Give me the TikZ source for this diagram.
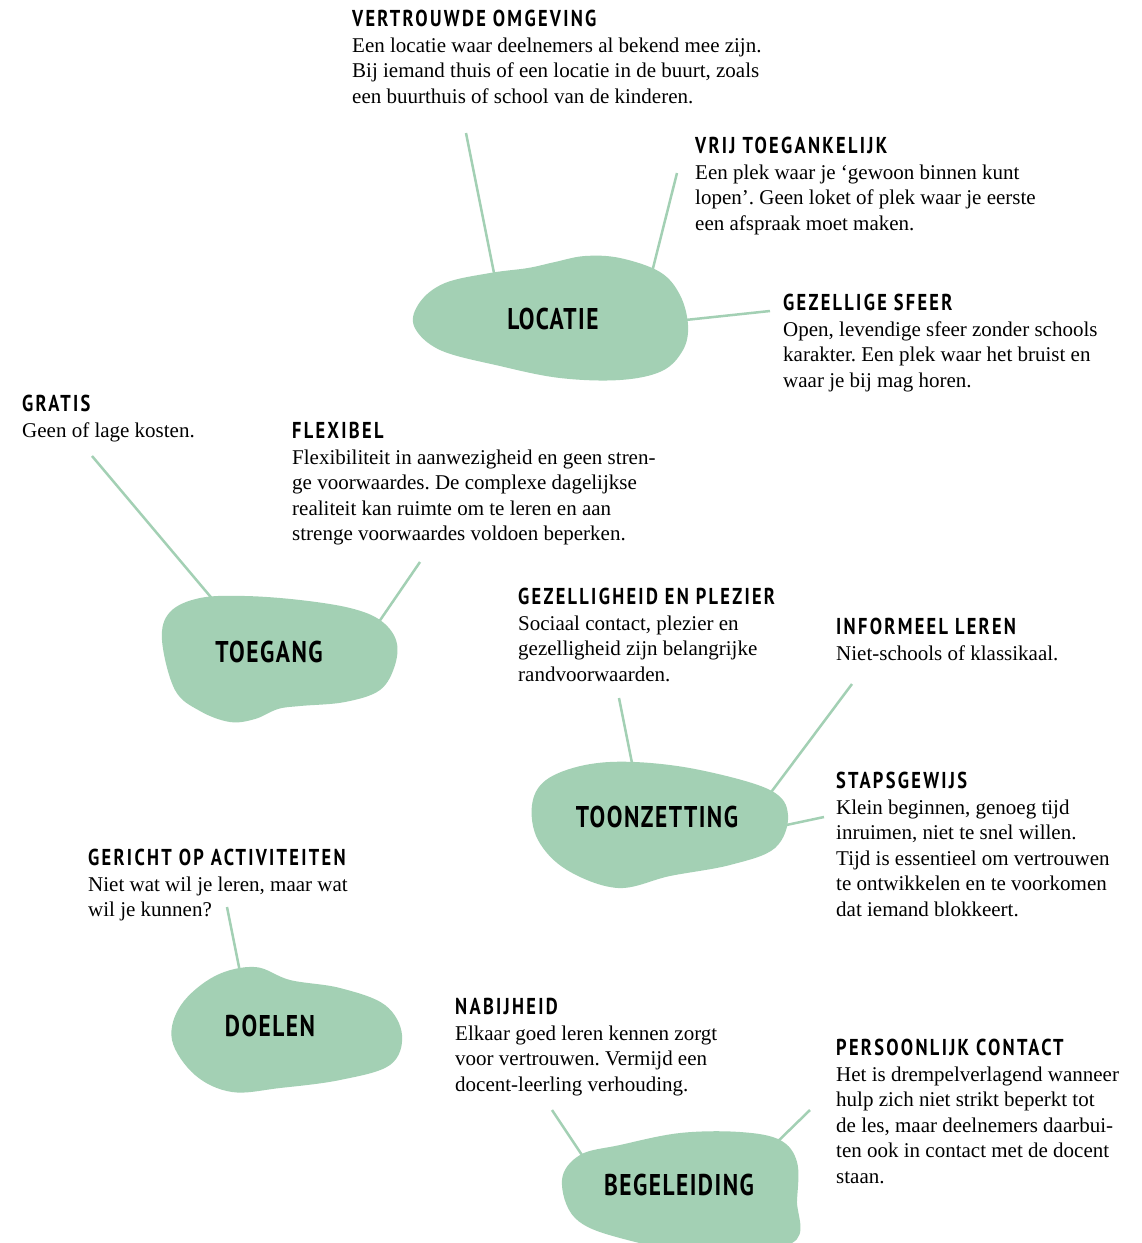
\documentclass[tikz,border=0pt]{standalone}
\usepackage{fontspec}
\setmainfont{Liberation Serif}
\newfontfamily\headfont{PT Sans}[FakeStretch=0.8, LetterSpace=10]
\newfontfamily\blobfont{PT Sans}[FakeStretch=0.78, LetterSpace=5]
\definecolor{blobgreen}{HTML}{A3D0B4}
\newcommand\hd[1]{{\headfont\bfseries\fontsize{23}{25.5}\selectfont #1}}
\tikzset{
  block/.style={anchor=north west, inner sep=0pt, align=left, font=\fontsize{21}{25.5}\selectfont},
  conn/.style={draw=blobgreen, line width=2.5pt},
  blob/.style={fill=blobgreen},
  bloblabel/.style={inner sep=0pt, font=\blobfont\bfseries\fontsize{30}{32}\selectfont}
}
\frenchspacing
\begin{document}
\begin{tikzpicture}[x=1pt,y=-1pt]
\useasboundingbox (0,0) rectangle (1142,1243);
\fill[white] (0,0) rectangle (1142,1243);

% connector end points
\coordinate (vo1) at (466,133); \coordinate (vo2) at (496,283);
\coordinate (vt1) at (677,173); \coordinate (vt2) at (650,280);
\coordinate (gs1) at (770,311); \coordinate (gs2) at (676,321);
\coordinate (gr1) at (92,456);  \coordinate (gr2) at (220,608);
\coordinate (fl1) at (420,562); \coordinate (fl2) at (372,632);
\coordinate (gp1) at (619,698); \coordinate (gp2) at (634,773);
\coordinate (il1) at (852,684); \coordinate (il2) at (766,799);
\coordinate (sg1) at (824,817); \coordinate (sg2) at (777,827);
\coordinate (ga1) at (227,907); \coordinate (ga2) at (241,977);
\coordinate (nb1) at (552,1110); \coordinate (nb2) at (588,1164);
\coordinate (pc1) at (810,1110); \coordinate (pc2) at (770,1149);

\foreach \a in {vo,vt,gs,gr,fl,gp,il,sg,ga,nb,pc}{\draw[conn] (\a1) -- (\a2);}

% blobs
\fill[blob] plot[smooth cycle, tension=0.6] coordinates {(414,326) (440,350) (500,366) (560,378) (620,380) (662,371) (683,350) (688,325) (680,295) (660,272) (620,258) (585,256) (555,262) (528,268) (490,273) (445,283) (420,302)};
\fill[blob] plot[smooth cycle, tension=0.6] coordinates {(162,640) (170,612) (200,598) (245,596) (300,600) (350,608) (380,620) (396,640) (395,665) (380,690) (345,702) (300,706) (278,709) (255,719) (230,722) (200,711) (175,690)};
\fill[blob] plot[smooth cycle, tension=0.6] coordinates {(532,805) (546,780) (585,765) (635,762) (700,770) (770,790) (788,815) (775,848) (730,865) (670,876) (618,888) (567,870) (538,840)};
\fill[blob] plot[smooth cycle, tension=0.6] coordinates {(172,1040) (181,1005) (215,976) (255,967) (290,980) (340,988) (385,1005) (402,1035) (390,1065) (340,1080) (280,1088) (232,1092) (195,1075)};
\fill[blob] plot[smooth cycle, tension=0.6] coordinates {(562,1180) (580,1155) (620,1145) (680,1133) (740,1132) (780,1140) (797,1162) (797,1200) (792,1243) (700,1252) (620,1238) (575,1218)};

\node[bloblabel] (locatie) at (553,319) {LOCATIE};
\node[bloblabel] (toegang) at (269,652) {TOEGANG};
\node[bloblabel] (toonzetting) at (657,817) {TOONZETTING};
\node[bloblabel] (doelen) at (270,1026) {DOELEN};
\node[bloblabel] (begeleiding) at (679,1185) {BEGELEIDING};

% text blocks
\node[block] (vertrouwd) at (352,10) {\hd{VERTROUWDE OMGEVING}\\
Een locatie waar deelnemers al bekend mee zijn.\\
Bij iemand thuis of een locatie in de buurt, zoals\\
een buurthuis of school van de kinderen.};
\node[block] (vrij) at (695,137) {\hd{VRIJ TOEGANKELIJK}\\
Een plek waar je ‘gewoon binnen kunt\\
lopen’. Geen loket of plek waar je eerste\\
een afspraak moet maken.};
\node[block] (sfeer) at (783,294) {\hd{GEZELLIGE SFEER}\\
Open, levendige sfeer zonder schools\\
karakter. Een plek waar het bruist en\\
waar je bij mag horen.};
\node[block] (gratis) at (22,395) {\hd{GRATIS}\\
Geen of lage kosten.};
\node[block] (flexibel) at (292,422) {\hd{FLEXIBEL}\\
Flexibiliteit in aanwezigheid en geen stren-\\
ge voorwaardes. De complexe dagelijkse\\
realiteit kan ruimte om te leren en aan\\
strenge voorwaardes voldoen beperken.};
\node[block] (plezier) at (518,588) {\hd{GEZELLIGHEID EN PLEZIER}\\
Sociaal contact, plezier en\\
gezelligheid zijn belangrijke\\
randvoorwaarden.};
\node[block] (informeel) at (836,618) {\hd{INFORMEEL LEREN}\\
Niet-schools of klassikaal.};
\node[block] (stapsgewijs) at (836,772) {\hd{STAPSGEWIJS}\\
Klein beginnen, genoeg tijd\\
inruimen, niet te snel willen.\\
Tijd is essentieel om vertrouwen\\
te ontwikkelen en te voorkomen\\
dat iemand blokkeert.};
\node[block] (gericht) at (88,849) {\hd{GERICHT OP ACTIVITEITEN}\\
Niet wat wil je leren, maar wat\\
wil je kunnen?};
\node[block] (nabijheid) at (455,998) {\hd{NABIJHEID}\\
Elkaar goed leren kennen zorgt\\
voor vertrouwen. Vermijd een\\
docent-leerling verhouding.};
\node[block] (persoonlijk) at (836,1039) {\hd{PERSOONLIJK CONTACT}\\
Het is drempelverlagend wanneer\\
hulp zich niet strikt beperkt tot\\
de les, maar deelnemers daarbui-\\
ten ook in contact met de docent\\
staan.};
\end{tikzpicture}
\end{document}
